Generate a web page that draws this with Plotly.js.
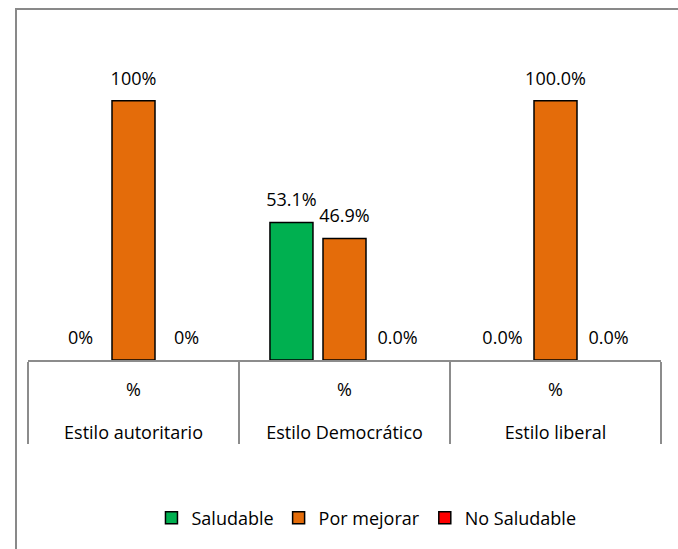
<!DOCTYPE html>
<html>
<head>
<meta charset="utf-8">
<script src="https://cdn.plot.ly/plotly-3.0.1.min.js"></script>
<style>
  html, body { margin: 0; padding: 0; background: #fff; }
  #wrap { position: relative; width: 678px; height: 549px; }
  #chart { position: absolute; left: 0; top: 0; width: 678px; height: 549px; }
  #frame { position: absolute; left: 15px; top: 8px; width: 700px; height: 600px;
           border-left: 2px solid #898989; border-top: 2px solid #898989; pointer-events: none; }
</style>
</head>
<body>
<div id="wrap">
  <div id="chart"></div>
  <div id="frame"></div>
</div>
<script>
// Categories (outer level) and inner level label
const groups = ["Estilo autoritario", "Estilo Democrático", "Estilo liberal"];
const inner = ["%", "%", "%"];

// Series values (percent)
const saludable = [0, 53.1, 0];
const porMejorar = [100, 46.9, 100];
const noSaludable = [0, 0, 0];

// Data labels as shown
const saludableLabels = ["0%", "53.1%", "0.0%"];
const porMejorarLabels = ["100%", "46.9%", "100.0%"];
const noSaludableLabels = ["0%", "0.0%", "0.0%"];

const seriesNames = ["Saludable", "Por mejorar", "No Saludable"];
const seriesColors = ["#00B050", "#E46C0A", "#FF0000"];

const FONT = "Open Sans, Noto Sans, DejaVu Sans, sans-serif";
// inner level gets an invisible trailing line so the outer level sits lower, as in the original
const innerTicks = inner.map(s => s + "<br><span style='font-size:38px'>\u00a0</span>");
const x = [groups, innerTicks];

const series = [
  { name: seriesNames[0], vals: saludable, labels: saludableLabels, color: seriesColors[0] },
  { name: seriesNames[1], vals: porMejorar, labels: porMejorarLabels, color: seriesColors[1] },
  { name: seriesNames[2], vals: noSaludable, labels: noSaludableLabels, color: seriesColors[2] }
];

const data = [];
// the bars (zero-height bars get no outline)
series.forEach((s, i) => {
  data.push({
    type: "bar",
    name: s.name,
    x: x,
    y: s.vals,
    offsetgroup: String(i),
    showlegend: false,
    marker: {
      color: s.color,
      line: { color: "#000", width: s.vals.map(v => (v === 0 ? 0 : 1.5)) }
    },
    hoverinfo: "skip"
  });
});
// legend entries (same slot, no drawn bars), outlined squares
series.forEach((s, i) => {
  data.push({
    type: "bar",
    name: s.name,
    x: x,
    y: s.vals.map(() => null),
    offsetgroup: String(i),
    showlegend: true,
    marker: { color: s.color, line: { color: "#000", width: 1.5 } },
    hoverinfo: "skip"
  });
});
// data labels
series.forEach((s, i) => {
  data.push({
    type: "scatter",
    mode: "markers+text",
    x: x,
    y: s.vals,
    offsetgroup: String(i),
    text: s.labels,
    textposition: "top center",
    textfont: { family: FONT, size: 18, color: "#000" },
    marker: { size: 17, opacity: 0, color: s.color },
    cliponaxis: false,
    showlegend: false,
    hoverinfo: "skip"
  });
});

const layout = {
  width: 678,
  height: 549,
  margin: { l: 28, r: 17, t: 49, b: 187 },
  paper_bgcolor: "#fff",
  plot_bgcolor: "#fff",
  barmode: "group",
  bargap: 0.246,
  bargroupgap: 0.189,
  scattermode: "group",
  scattergap: 0.246,
  font: { family: FONT, size: 18, color: "#000" },
  xaxis: {
    type: "multicategory",
    showline: true,
    linecolor: "#8c8c8c",
    linewidth: 1.5,
    ticks: "",
    ticklabelstandoff: 13,
    showdividers: true,
    dividercolor: "#8c8c8c",
    dividerwidth: 1.5,
    tickfont: { family: FONT, size: 18, color: "#000" },
    showgrid: false,
    zeroline: false
  },
  yaxis: {
    range: [0, 120],
    visible: false,
    showgrid: false,
    zeroline: false
  },
  showlegend: true,
  legend: {
    orientation: "h",
    x: 0.5347,
    xanchor: "center",
    y: -0.508,
    yanchor: "middle",
    font: { family: FONT, size: 18, color: "#000" },
    bgcolor: "rgba(0,0,0,0)",
    traceorder: "normal"
  }
};

Plotly.newPlot("chart", data, layout, { displayModeBar: false, staticPlot: true });
</script>
</body>
</html>
